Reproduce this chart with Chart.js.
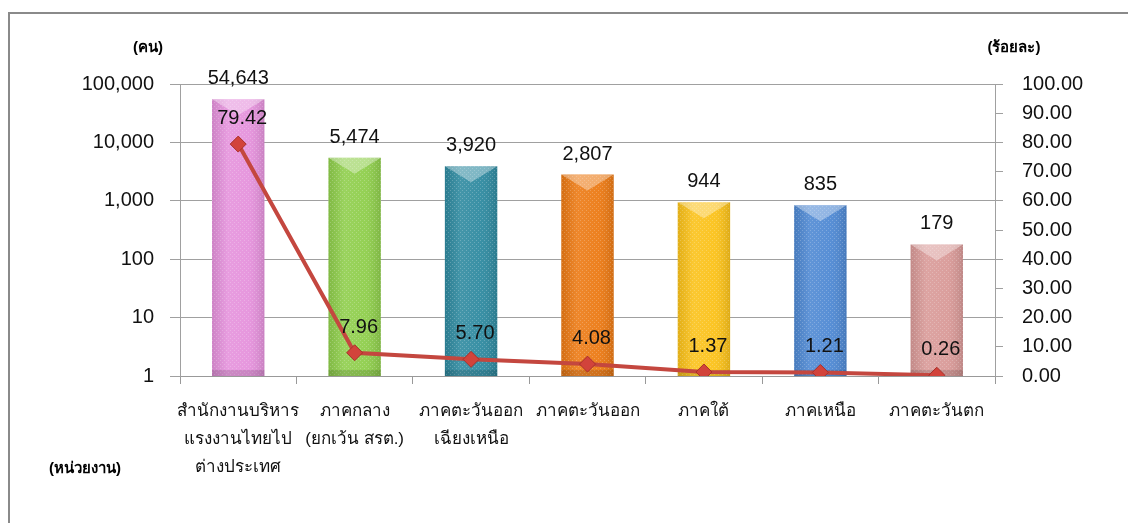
<!DOCTYPE html>
<html>
<head>
<meta charset="utf-8">
<script src="https://cdn.jsdelivr.net/npm/chart.js@4.4.1/dist/chart.umd.min.js"></script>
<style>
    body { margin: 0; background: #fff; }
    #wrap { position: relative; width: 1128px; height: 523px; overflow: hidden; }
    #frame { position: absolute; left: 8px; top: 12px; width: 1300px; height: 700px;
             border-left: 2px solid #8a8a8a; border-top: 2px solid #8a8a8a; }
    canvas { position: absolute; left: 0; top: 0; }
    .unit { position: absolute; font: bold 15px Tahoma, "Liberation Sans", sans-serif; color: #000;
            transform: translateX(-50%); white-space: nowrap; }
</style>
</head>
<body>
<div id="wrap">
    <div id="frame"></div>
    <canvas id="myChart" width="1128" height="523"></canvas>
    <div class="unit" style="left:148px; top:35px;">(คน)</div>
    <div class="unit" style="left:1014px; top:35px;">(ร้อยละ)</div>
    <div class="unit" style="left:85px; top:456px;">(หน่วยงาน)</div>
</div>
<script>
const labels = [
    ['สำนักงานบริหาร', 'แรงงานไทยไป', 'ต่างประเทศ'],
    ['ภาคกลาง', '(ยกเว้น สรต.)'],
    ['ภาคตะวันออก', 'เฉียงเหนือ'],
    'ภาคตะวันออก',
    'ภาคใต้',
    'ภาคเหนือ',
    'ภาคตะวันตก'
];
const jumlah = [54643, 5474, 3920, 2807, 944, 835, 179];
const procenta = [79.42, 7.96, 5.70, 4.08, 1.37, 1.21, 0.26];
const logTicks = [1, 10, 100, 1000, 10000, 100000];

const barvy = ['#e592dc', '#8fce4c', '#2f8aa0', '#ec7a14', '#fbc21a', '#4f89d3', '#d99a98'];

// light dots pattern used on top of every bar
function dotPattern(ctx) {
    const c = document.createElement('canvas');
    c.width = 4; c.height = 4;
    const g = c.getContext('2d');
    g.fillStyle = 'rgba(255,255,255,0.22)';
    g.fillRect(0, 0, 1, 1);
    g.fillRect(2, 2, 1, 1);
    return ctx.createPattern(c, 'repeat');
}

const barEffect = {
    id: 'barEffect',
    afterDatasetDraw(chart, args) {
        if (args.index !== 0) return;
        const ctx = chart.ctx;
        const pat = dotPattern(ctx);
        args.meta.data.forEach(bar => {
            const w = bar.width, l = bar.x - w / 2, r = bar.x + w / 2, t = bar.y, b = bar.base;
            ctx.save();
            // horizontal shading
            const gr = ctx.createLinearGradient(l, 0, r, 0);
            gr.addColorStop(0, 'rgba(0,0,0,0.10)');
            gr.addColorStop(0.3, 'rgba(255,255,255,0.10)');
            gr.addColorStop(0.7, 'rgba(255,255,255,0.05)');
            gr.addColorStop(1, 'rgba(0,0,0,0.12)');
            ctx.fillStyle = gr;
            ctx.fillRect(l, t, w, b - t);
            ctx.fillStyle = pat;
            ctx.fillRect(l, t, w, b - t);
            // top bevel
            const bv = Math.min(16, (b - t) / 2);
            ctx.fillStyle = 'rgba(255,255,255,0.35)';
            ctx.beginPath();
            ctx.moveTo(l, t); ctx.lineTo(r, t); ctx.lineTo(bar.x, t + bv); ctx.closePath();
            ctx.fill();
            // bottom bevel
            ctx.fillStyle = 'rgba(0,0,0,0.12)';
            ctx.fillRect(l, b - 6, w, 6);
            ctx.restore();
        });
    }
};

const popisky = {
    id: 'popisky',
    afterDatasetsDraw(chart) {
        const ctx = chart.ctx;
        ctx.save();
        ctx.font = '20px "Liberation Sans", Arial, sans-serif';
        ctx.fillStyle = '#111';
        ctx.textAlign = 'center';
        ctx.textBaseline = 'alphabetic';
        chart.getDatasetMeta(0).data.forEach((bar, i) => {
            ctx.fillText(jumlah[i].toLocaleString('en-US'), bar.x, bar.y - 15);
        });
        chart.getDatasetMeta(1).data.forEach((pt, i) => {
            ctx.fillText(procenta[i].toFixed(2), pt.x + 4, pt.y - 20);
        });
        ctx.restore();
    }
};

const ctx = document.getElementById('myChart').getContext('2d');
new Chart(ctx, {
    type: 'bar',
    data: {
        labels: labels,
        datasets: [{
            type: 'bar',
            label: 'คน',
            data: jumlah,
            backgroundColor: barvy,
            borderWidth: 0,
            barPercentage: 0.45,
            categoryPercentage: 1,
            yAxisID: 'y',
            order: 2
        }, {
            type: 'line',
            label: 'ร้อยละ',
            data: procenta,
            borderColor: '#c4473f',
            borderWidth: 4,
            pointStyle: 'rectRot',
            pointRadius: 8,
            pointBackgroundColor: '#d2433b',
            pointBorderColor: '#a8302a',
            pointBorderWidth: 1,
            tension: 0,
            yAxisID: 'y2',
            order: 1
        }]
    },
    options: {
        responsive: false,
        animation: false,
        devicePixelRatio: 1,
        layout: { padding: { top: 84, left: 0, right: 0, bottom: 0 } },
        plugins: {
            legend: { display: false },
            tooltip: { enabled: false }
        },
        scales: {
            x: {
                grid: { drawOnChartArea: false, tickLength: 8, color: '#999' },
                border: { color: '#999' },
                ticks: {
                    color: '#111',
                    padding: 14,
                    maxRotation: 0,
                    autoSkip: false,
                    font: { size: 17, family: 'Tahoma, "Liberation Sans", sans-serif', lineHeight: 1.62 }
                },
                afterFit: s => { s.height = 147; }
            },
            y: {
                type: 'logarithmic',
                position: 'left',
                min: 1,
                max: 100000,
                afterBuildTicks: s => { s.ticks = logTicks.map(v => ({ value: v })); },
                grid: { color: '#a0a0a0', tickLength: 10 },
                border: { color: '#a0a0a0' },
                ticks: {
                    color: '#111',
                    padding: 16,
                    font: { size: 20, family: '"Liberation Sans", Arial, sans-serif' },
                    callback: v => Number(v).toLocaleString('en-US')
                },
                afterFit: s => { s.width = 180; }
            },
            y2: {
                position: 'right',
                min: 0,
                max: 100,
                grid: { drawOnChartArea: false, tickLength: 8, color: '#a0a0a0' },
                border: { color: '#a0a0a0' },
                ticks: {
                    stepSize: 10,
                    color: '#111',
                    padding: 19,
                    font: { size: 20, family: '"Liberation Sans", Arial, sans-serif' },
                    callback: v => Number(v).toFixed(2)
                },
                afterFit: s => { s.width = 133; }
            }
        }
    },
    plugins: [barEffect, popisky]
});
</script>
</body>
</html>
